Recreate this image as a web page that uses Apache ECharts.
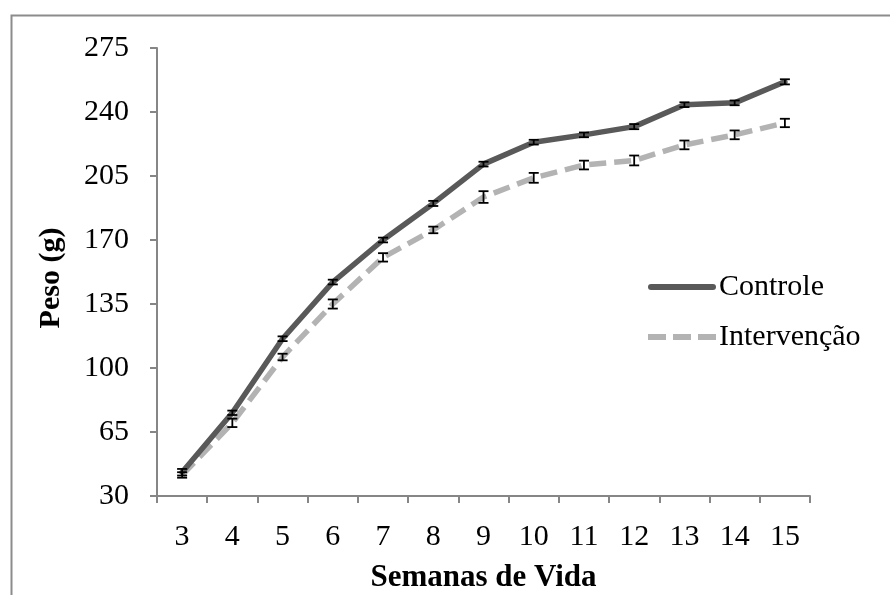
<!DOCTYPE html>
<html>
<head>
<meta charset="utf-8">
<script src="https://cdn.jsdelivr.net/npm/echarts@6/dist/echarts.min.js"></script>
<style>
html,body{margin:0;padding:0;background:#fff;}
#chart{width:890px;height:595px;}
</style>
</head>
<body>
<div id="chart"></div>
<script>
const weeks = ['3','4','5','6','7','8','9','10','11','12','13','14','15'];
const controle = [43, 75.5, 116, 147, 170, 190, 211.5, 223.5, 227.5, 232, 244, 245, 256.5];
const controleErr = [1.8, 1.2, 1.3, 1.3, 1.3, 1.4, 1.3, 1.3, 1.3, 1.4, 1.3, 1.3, 1.4];
const intervencao = [41.5, 70, 106, 135, 160.5, 175.5, 193.5, 204, 211, 213.5, 222, 227.5, 234];
const intervencaoErr = [1.5, 2.3, 1.8, 2.5, 2.3, 1.8, 3.2, 2.7, 2.4, 2.7, 2.4, 2.4, 2.3];
const yTicks = {min: 30, max: 275, step: 35};

const font = '"Liberation Serif", "Times New Roman", serif';

function errData(vals, errs) {
  return vals.map((v, i) => [i, v - errs[i], v + errs[i]]);
}
function errRender(params, api) {
  const x = api.value(0);
  const lo = api.coord([x, api.value(1)]);
  const hi = api.coord([x, api.value(2)]);
  const hw = 5;
  const st = {stroke: '#000', lineWidth: 1.8};
  return {
    type: 'group',
    children: [
      {type: 'line', shape: {x1: lo[0], y1: lo[1], x2: hi[0], y2: hi[1]}, style: st},
      {type: 'line', shape: {x1: lo[0]-hw, y1: lo[1], x2: lo[0]+hw, y2: lo[1]}, style: st},
      {type: 'line', shape: {x1: hi[0]-hw, y1: hi[1], x2: hi[0]+hw, y2: hi[1]}, style: st}
    ]
  };
}

const chart = echarts.init(document.getElementById('chart'), null, {renderer: 'canvas'});
chart.setOption({
  animation: false,
  backgroundColor: '#fff',
  graphic: [{
    type: 'rect', left: 9, top: 13, silent: true,
    shape: {x: 0, y: 0, width: 900, height: 600},
    style: {fill: 'none', stroke: '#8c8c8c', lineWidth: 2}
  }],
  grid: {left: 157, top: 48, right: 80, bottom: 99, containLabel: false, outerBoundsMode: 'none'},
  legend: {
    orient: 'vertical', left: 643, top: 267, itemGap: 20,
    itemWidth: 68, itemHeight: 6,
    data: [
      {name: 'Controle', icon: 'path://M3,0H65A3,3 0 0 1 65,6H3A3,3 0 0 1 3,0Z'},
      {name: 'Intervenção', icon: 'path://M0,0H18V6H0Z M25,0H43V6H25Z M50,0H68V6H50Z'}
    ],
    textStyle: {fontFamily: font, fontSize: 30, color: '#000', padding: [0,0,0,-2]}
  },
  xAxis: {
    type: 'category', data: weeks, boundaryGap: true,
    name: 'Semanas de Vida', nameLocation: 'middle', nameGap: 66,
    nameTextStyle: {fontFamily: font, fontSize: 31, fontWeight: 'bold', color: '#000'},
    axisLine: {lineStyle: {color: '#868686', width: 2}},
    axisTick: {show: true, length: 7, alignWithLabel: false, lineStyle: {color: '#868686', width: 2}},
    axisLabel: {fontFamily: font, fontSize: 30, color: '#000', margin: 26}
  },
  yAxis: {
    type: 'value', min: yTicks.min, max: yTicks.max, interval: yTicks.step,
    name: 'Peso (g)', nameLocation: 'middle', nameGap: 91,
    nameTextStyle: {fontFamily: font, fontSize: 30, fontWeight: 'bold', color: '#000', padding: [0, 12, 0, 0]},
    axisLine: {show: true, lineStyle: {color: '#868686', width: 2}},
    axisTick: {show: true, length: 7, lineStyle: {color: '#868686', width: 2}},
    splitLine: {show: false},
    axisLabel: {fontFamily: font, fontSize: 30, color: '#000', margin: 28}
  },
  series: [
    {
      name: 'Controle', type: 'line', data: controle, symbol: 'none', showSymbol: false,
      lineStyle: {color: '#595959', width: 5.5, cap: 'round'}, itemStyle: {color: '#595959'}, z: 3
    },
    {
      name: 'Intervenção', type: 'line', data: intervencao, symbol: 'none', showSymbol: false,
      lineStyle: {color: '#b3b3b3', width: 5.5, type: [17, 8]}, itemStyle: {color: '#b3b3b3'}, z: 2
    },
    {type: 'custom', data: errData(controle, controleErr), renderItem: errRender, z: 4, silent: true},
    {type: 'custom', data: errData(intervencao, intervencaoErr), renderItem: errRender, z: 4, silent: true}
  ]
});
</script>
</body>
</html>
